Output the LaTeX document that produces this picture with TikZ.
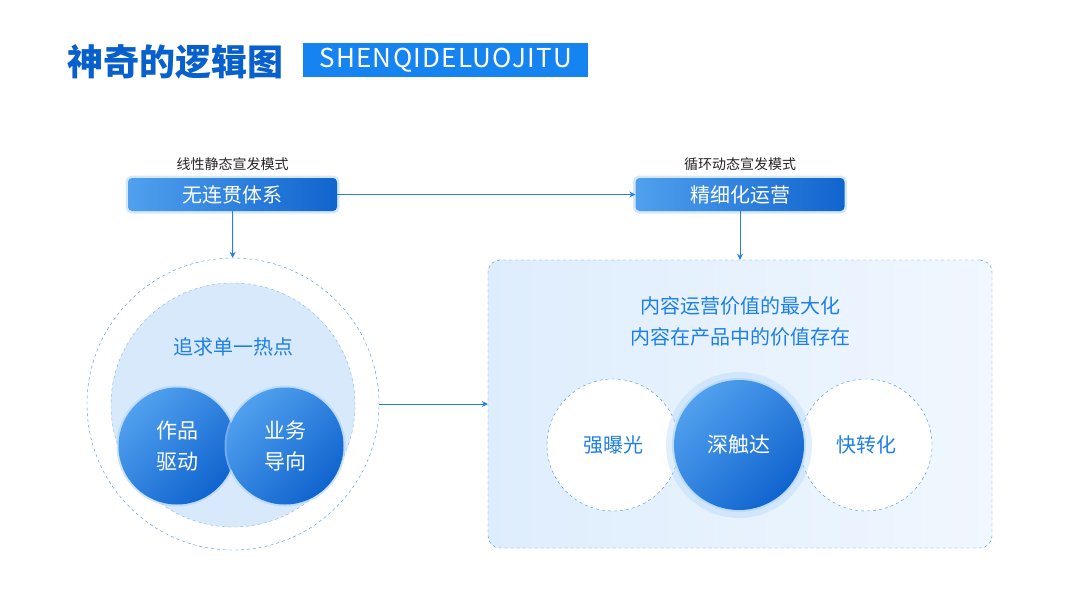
\documentclass[tikz,border=0pt]{standalone}
\usepackage{fontspec}
\setmainfont{Noto Sans CJK SC}
\usetikzlibrary{positioning,arrows.meta}
\definecolor{titleblue}{RGB}{8,96,204}
\definecolor{tagblue}{RGB}{22,132,240}
\definecolor{btnlight}{RGB}{80,160,238}
\definecolor{btndark}{RGB}{16,100,206}
\definecolor{glowblue}{RGB}{170,210,250}
\definecolor{linkblue}{RGB}{36,128,226}
\definecolor{dashblue}{RGB}{70,146,224}
\definecolor{softfill}{RGB}{216,233,252}
\definecolor{panelleft}{RGB}{222,237,253}
\definecolor{panelright}{RGB}{240,247,254}
\definecolor{txtblue}{RGB}{30,128,230}
\newcommand{\fs}[1]{\fontsize{#1}{#1}\selectfont}
\tikzset{
  modebox/.style ={rectangle, rounded corners=4pt, minimum width=209pt, minimum height=33pt,
                  left color=btnlight, right color=btndark, text=white, font=\fs{20},
                  preaction={draw=glowblue, line width=5pt, opacity=0.5}},
  modelbl/.style ={font=\fs{14}, text=black!85, inner sep=1pt},
  hotball/.style ={circle, minimum size=117pt, inner sep=0pt, top color=btnlight, bottom color=btndark,
                  shading angle=45, text=white, font=\fs{21}, align=center,
                  preaction={draw=glowblue, line width=4pt, opacity=0.6}},
  wball/.style   ={circle, minimum size=132pt, inner sep=0pt, fill=white, draw=dashblue,
                  dashed, thin, text=txtblue, font=\fs{20}},
  flow/.style    ={-{Stealth[length=6pt,width=6pt]}, draw=linkblue, line width=0.9pt},
  bluetxt/.style ={text=txtblue, font=\fs{20}, align=center},
}
\begin{document}
\begin{tikzpicture}[x=1pt, y=-1pt]
  \useasboundingbox[fill=white] (0,0) rectangle (1080,608);
  % header
  \node[anchor=west, text=titleblue, font=\fs{36}\bfseries, inner sep=0pt] (title) at (67,62) {神奇的逻辑图};
  \node[anchor=west, fill=tagblue, text=white, font=\fs{26}\addfontfeature{LetterSpace=5}, minimum width=285pt,
        minimum height=34pt, inner sep=0pt] (tag) at (303,60) {SHENQIDELUOJITU};
  % the two modes
  \node[modebox] (linbox) at (232.5,194.5) {无连贯体系};
  \node[modebox] (cycbox) at (740,194.5) {精细化运营};
  \node[modelbl, above=6pt of linbox] (linlbl) {线性静态宣发模式};
  \node[modelbl, above=6pt of cycbox] (cyclbl) {循环动态宣发模式};
  % left group
  \node[circle, draw=dashblue, dashed, thin, minimum size=292pt] (hotring) at (233,404) {};
  \node[circle, fill=softfill, draw=dashblue!70, dashed, thin, minimum size=244pt] (hotcore) at (233,405) {};
  \node[bluetxt] (hotlbl) at (233,347) {追求单一热点};
  \node[hotball] (works) at (177,446) {作品\\[10pt]驱动};
  \node[hotball] (biz) at (285,446) {业务\\[10pt]导向};
  % right group
  \node[rectangle, rounded corners=12pt, draw=dashblue, dashed, thin, minimum width=504pt, minimum height=288pt,
        left color=panelleft, right color=panelright] (opsbox) at (740,404) {};
  \node[bluetxt] (opslbl1) at (740,306) {内容运营价值的最大化};
  \node[bluetxt] (opslbl2) at (740,337) {内容在产品中的价值存在};
  \node[wball] (expose) at (613,445) {强曝光};
  \node[wball] (convert) at (866,445) {快转化};
  \node[circle, fill=glowblue, opacity=0.35, minimum size=146pt] (reachglow) at (739,445) {};
  \node[hotball, minimum size=130pt] (reach) at (739,445) {深触达};
  % connectors
  \draw[flow] (linbox) -- (cycbox);
  \draw[flow] (linbox) -- (hotring);
  \draw[flow] (cycbox) -- (opsbox);
  \draw[flow] (hotring) -- (opsbox);
\end{tikzpicture}
\end{document}
